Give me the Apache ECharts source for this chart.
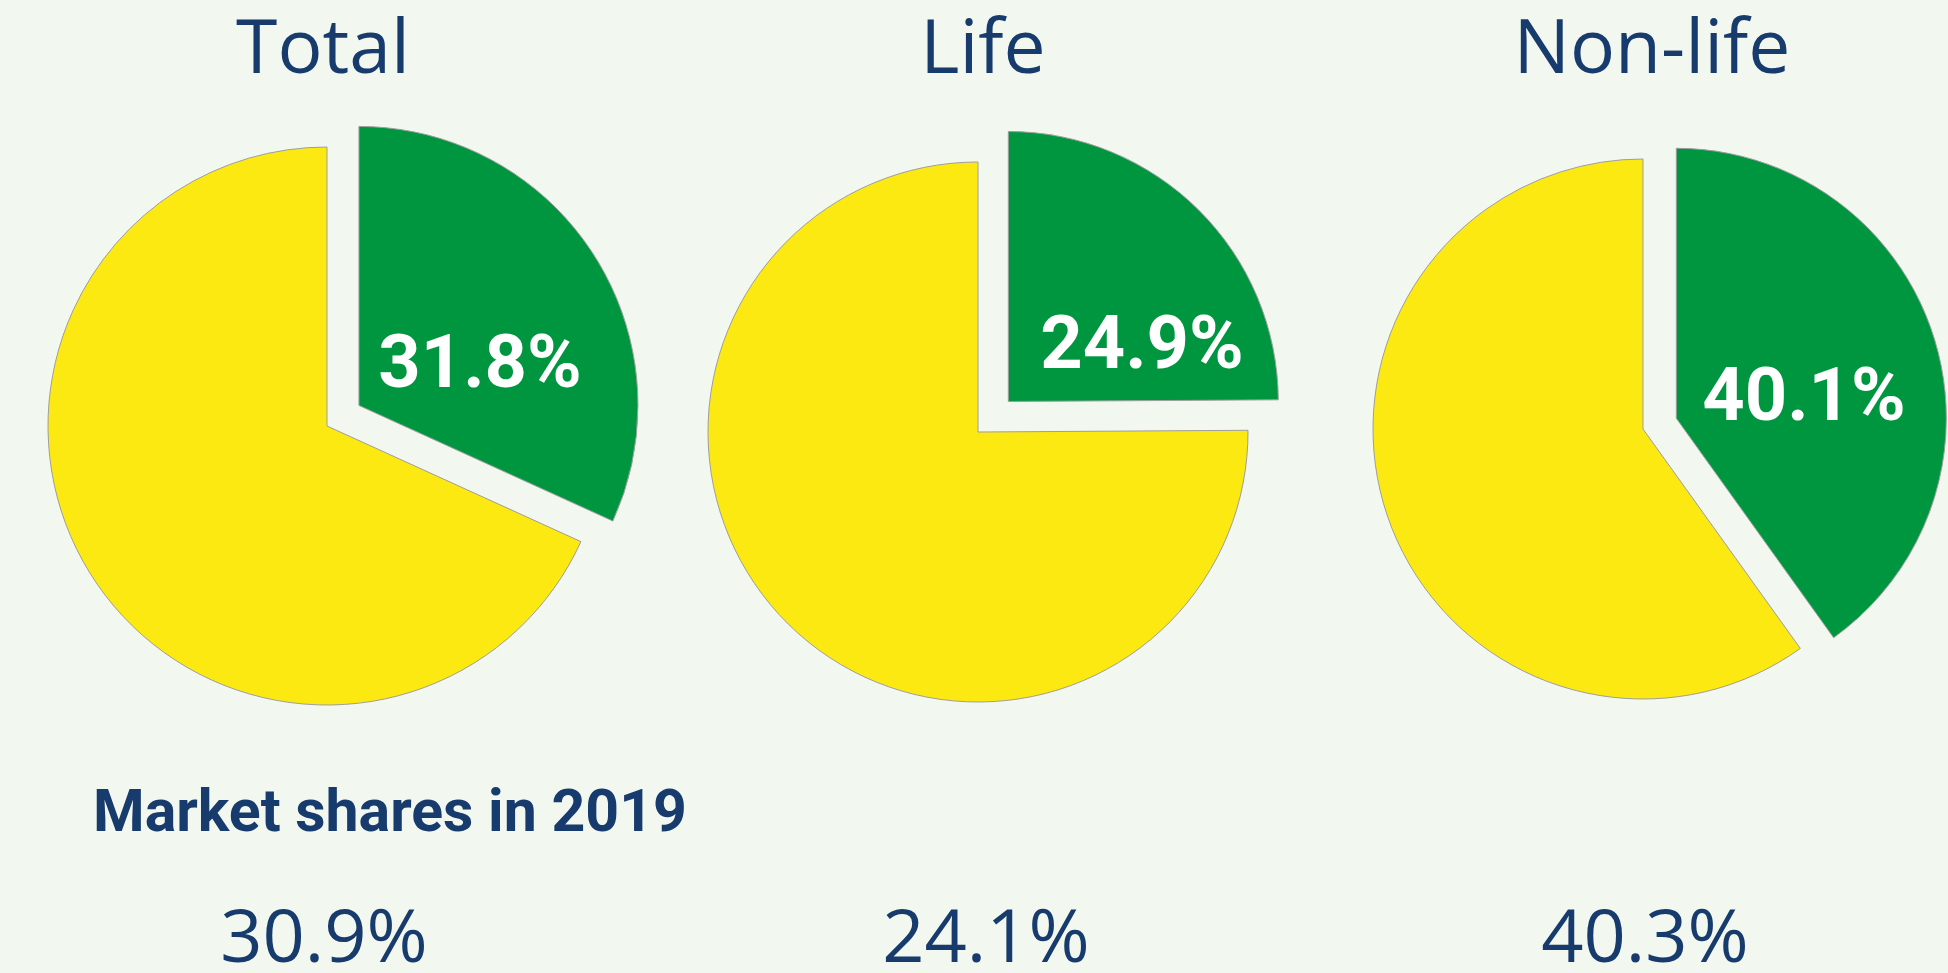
<!DOCTYPE html>
<html>
<head>
<meta charset="utf-8">
<script src="https://cdn.jsdelivr.net/npm/echarts@6/dist/echarts.min.js"></script>
<style>
  html, body { margin: 0; padding: 0; background: #F2F7EF; }
  #chart { width: 1948px; height: 973px; }
</style>
</head>
<body>
<div id="chart"></div>
<script>
// ---- data ----
const categories = ['Total', 'Life', 'Non-life'];
const shareHighlighted = [31.8, 24.9, 40.1];   // green slices
const shareRest = [68.2, 75.1, 59.9];          // yellow slices
const shares2019 = [30.9, 24.1, 40.3];
const subTitle = 'Market shares in 2019';

// ---- layout (px) ----
const pieCenters = [[327, 426], [978, 432], [1643, 429]];
const pieRadius = [279, 270, 270];
const explode = [38, 43, 35];
const labelPos = [[480, 368], [1142, 349], [1804, 401]];
const titleX = [323, 983, 1652];
const valueX = [324, 986, 1645];

const NAVY = '#173B6C';
const GREEN = '#009640';
const YELLOW = '#FDE912';
const LABEL_SIZE = 74;

const chart = echarts.init(document.getElementById('chart'), null, { renderer: 'canvas' });

const titles = [];
categories.forEach((c, i) => {
  titles.push({
    text: c, left: titleX[i], top: 14, textAlign: 'center', padding: 0,
    textStyle: { fontFamily: 'Open Sans', fontWeight: 'normal', fontSize: 75, color: NAVY }
  });
});
titles.push({
  text: subTitle, left: 93, top: 787, padding: 0,
  textStyle: { fontFamily: 'Roboto', fontWeight: 'bold', fontSize: 59, color: NAVY }
});
shares2019.forEach((v, i) => {
  titles.push({
    text: v.toFixed(1) + '%', left: valueX[i], top: 904, textAlign: 'center', padding: 0,
    textStyle: { fontFamily: 'Open Sans', fontWeight: 'normal', fontSize: 74, color: NAVY }
  });
});
// value labels inside the green (highlighted) slices
shareHighlighted.forEach((v, i) => {
  titles.push({
    text: v.toFixed(1) + '%', left: labelPos[i][0], top: labelPos[i][1] - LABEL_SIZE / 2,
    textAlign: 'center', padding: 0, z: 10,
    textStyle: { fontFamily: 'Roboto', fontWeight: 'bold', fontSize: LABEL_SIZE, color: '#FFFFFF' }
  });
});

const series = categories.map((c, i) => ({
  type: 'pie',
  name: c,
  center: pieCenters[i],
  radius: [0, pieRadius[i]],
  startAngle: 90,
  clockwise: true,
  selectedMode: 'single',
  selectedOffset: explode[i],
  silent: true,
  animation: false,
  emphasis: { disabled: true },
  itemStyle: { borderColor: '#9E9E9E', borderWidth: 1 },
  label: { show: false },
  labelLine: { show: false },
  data: [
    { name: c + ' share', value: shareHighlighted[i], selected: true, itemStyle: { color: GREEN } },
    { name: c + ' rest', value: shareRest[i], itemStyle: { color: YELLOW } }
  ]
}));

chart.setOption({
  backgroundColor: '#F2F7EF',
  animation: false,
  title: titles,
  series: series
});
</script>
</body>
</html>
